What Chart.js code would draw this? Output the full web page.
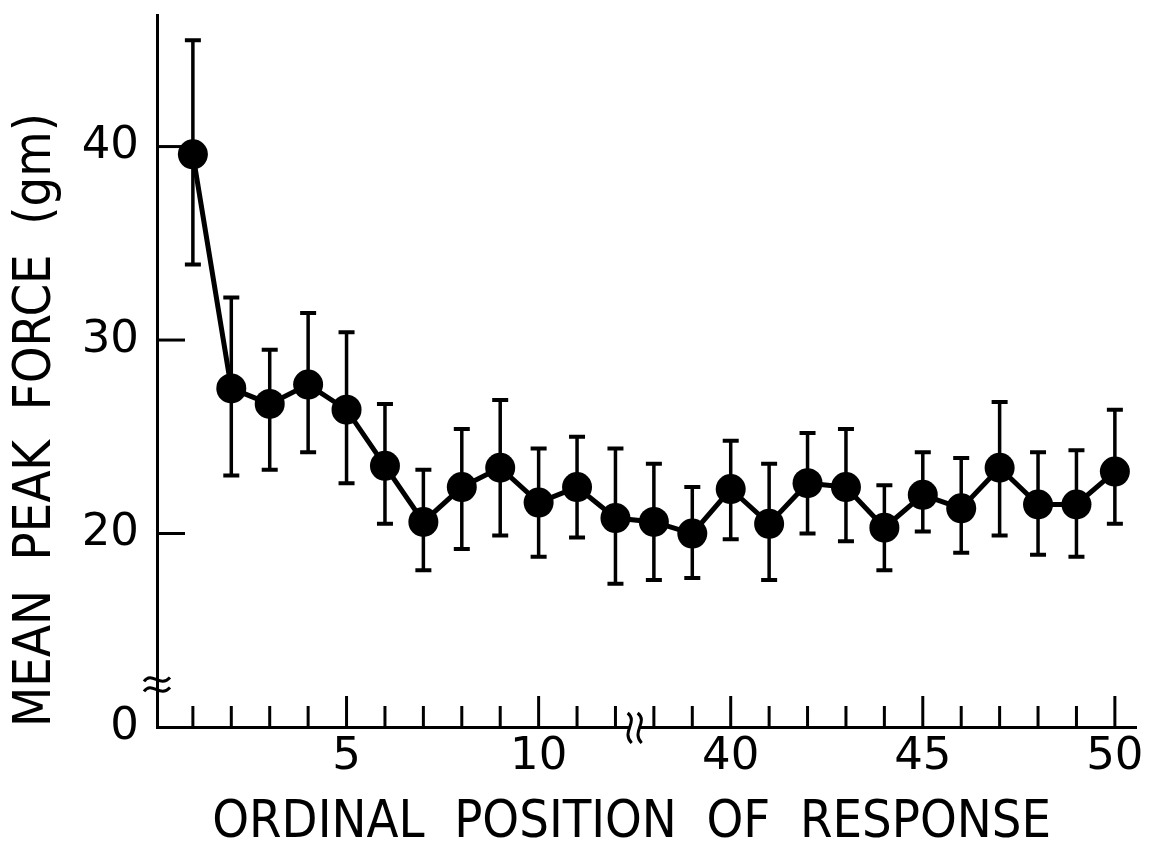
<!DOCTYPE html>
<html><head><meta charset="utf-8">
<script src="https://cdn.jsdelivr.net/npm/chart.js@4.4.1/dist/chart.umd.min.js"></script>
<style>html,body{margin:0;padding:0;background:#fff;}canvas{display:block;}</style>
</head><body>
<canvas id="c" width="1151" height="849"></canvas>
<script>
// ---- data ----
const responses = [1,2,3,4,5,6,7,8,9,10,11,12,38,39,40,41,42,43,44,45,46,47,48,49,50];
const meanForce = [39.6,27.5,26.7,27.7,26.4,23.5,20.6,22.4,23.4,21.6,22.4,20.8,20.6,20.0,22.3,20.5,22.6,22.4,20.3,22.0,21.3,23.4,21.5,21.5,23.2];
const errUpper  = [45.5,32.2,29.5,31.4,30.4,26.7,23.3,25.4,26.9,24.4,25.0,24.4,23.6,22.4,24.8,23.6,25.2,25.4,22.5,24.2,23.9,26.8,24.2,24.3,26.4];
const errLower  = [33.9,23.0,23.3,24.2,22.6,20.5,18.1,19.2,19.9,18.8,19.8,17.4,17.6,17.7,19.7,17.6,20.0,19.6,18.1,20.1,19.0,19.9,18.9,18.8,20.5];
const yTickValues = [10,20,30,40];
const yTickLabels = ['0','20','30','40'];
const xLabelEvery = 5;
const xTitle = 'ORDINAL  POSITION  OF  RESPONSE  ';
const yTitle = 'MEAN  PEAK  FORCE  (gm)';

// category order positions on the (broken) x axis
const positions = responses.map((r, i) => i + 1);
const breakAfter = 12; // axis break between response 12 and 38

const labelFor = v => {
  const i = positions.indexOf(v);
  if (i < 0) return '';
  const r = responses[i];
  return r % xLabelEvery === 0 ? String(r) : '';
};

const FONT = "'DejaVu Sans Condensed','DejaVu Sans',sans-serif";

const decor = {
  id: 'decor',
  beforeDatasetsDraw(chart) {
    const {ctx, scales: {x, y}} = chart;
    ctx.save();
    ctx.strokeStyle = '#000';
    ctx.lineCap = 'butt';
    positions.forEach((p, i) => {
      const px = x.getPixelForValue(p);
      const t = y.getPixelForValue(errUpper[i]);
      const b = y.getPixelForValue(errLower[i]);
      ctx.lineWidth = 3.5;
      ctx.beginPath(); ctx.moveTo(px, t); ctx.lineTo(px, b); ctx.stroke();
      ctx.lineWidth = 4;
      ctx.beginPath();
      ctx.moveTo(px - 8, t); ctx.lineTo(px + 8, t);
      ctx.moveTo(px - 8, b); ctx.lineTo(px + 8, b);
      ctx.stroke();
    });
    ctx.restore();
  },
  afterDraw(chart) {
    const {ctx, chartArea: ca, scales: {x, y}} = chart;
    ctx.save();
    ctx.strokeStyle = '#000';
    ctx.lineWidth = 3;
    // inward x ticks
    positions.forEach(p => {
      const px = x.getPixelForValue(p);
      const major = labelFor(p) !== '';
      ctx.beginPath(); ctx.moveTo(px, ca.bottom); ctx.lineTo(px, ca.bottom - (major ? 31 : 21)); ctx.stroke();
    });
    // inward y ticks
    yTickValues.slice(1).forEach(v => {
      const py = y.getPixelForValue(v);
      ctx.beginPath(); ctx.moveTo(ca.left, py); ctx.lineTo(ca.left + 28, py); ctx.stroke();
    });
    // y axis break
    const yb = y.getPixelForValue(12.2);
    ctx.lineWidth = 3;
    [-5, 5].forEach(d => {
      const yy = yb + d;
      ctx.beginPath();
      ctx.moveTo(ca.left - 13, yy + 2);
      ctx.bezierCurveTo(ca.left - 5, yy - 9, ca.left + 3, yy + 9, ca.left + 13, yy - 2);
      ctx.stroke();
    });
    // x axis break
    const xb = x.getPixelForValue(breakAfter + 0.5);
    ctx.fillStyle = '#fff';
    ctx.fillRect(xb - 5, ca.bottom - 4, 10, 8);
    [-5, 5].forEach(d => {
      const xx = xb + d;
      ctx.beginPath();
      ctx.moveTo(xx - 2, ca.bottom - 14);
      ctx.bezierCurveTo(xx + 9, ca.bottom - 5, xx - 9, ca.bottom + 5, xx + 2, ca.bottom + 16);
      ctx.stroke();
    });
    ctx.restore();
  }
};

new Chart(document.getElementById('c'), {
  type: 'line',
  data: {
    datasets: [{
      data: positions.map((p, i) => ({x: p, y: meanForce[i]})),
      borderColor: '#000',
      borderWidth: 5,
      pointRadius: 15,
      pointHoverRadius: 15,
      pointBackgroundColor: '#000',
      pointBorderColor: '#000',
      pointBorderWidth: 0,
      tension: 0,
      clip: false
    }]
  },
  options: {
    responsive: false,
    animation: false,
    devicePixelRatio: 1,
    layout: {padding: {top: 13, right: 12, left: 0, bottom: 0}},
    plugins: {legend: {display: false}, tooltip: {enabled: false}},
    scales: {
      x: {
        type: 'linear',
        min: 0.066,
        max: 25.55,
        afterBuildTicks: s => { s.ticks = positions.map(v => ({value: v})); },
        afterFit: s => { s.height = 122; s.paddingLeft = 0; s.paddingRight = 0; },
        grid: {display: false, drawTicks: false},
        border: {display: true, color: '#000', width: 3},
        ticks: {
          autoSkip: false, maxRotation: 0, minRotation: 0, padding: 3,
          color: '#000',
          font: {family: "'DejaVu Sans',sans-serif", size: 45},
          callback: v => labelFor(v)
        },
        title: {
          display: true, text: xTitle, color: '#000',
          font: {family: FONT, size: 52, lineHeight: 1},
          padding: {top: 0, bottom: 0}
        }
      },
      y: {
        type: 'linear',
        min: 10,
        max: 46.8,
        afterBuildTicks: s => { s.ticks = yTickValues.map(v => ({value: v})); },
        afterFit: s => { s.width = 157; s.paddingTop = 0; s.paddingBottom = 0; },
        grid: {display: false, drawTicks: false},
        border: {display: true, color: '#000', width: 3},
        ticks: {
          padding: 18, color: '#000',
          font: {family: "'DejaVu Sans',sans-serif", size: 45},
          callback: v => yTickLabels[yTickValues.indexOf(v)] ?? ''
        },
        title: {
          display: true, text: yTitle, color: '#000', align: 'start',
          font: {family: FONT, size: 52, lineHeight: 1},
          padding: {top: 10, bottom: 0}
        }
      }
    }
  },
  plugins: [decor]
});
</script>
</body></html>
